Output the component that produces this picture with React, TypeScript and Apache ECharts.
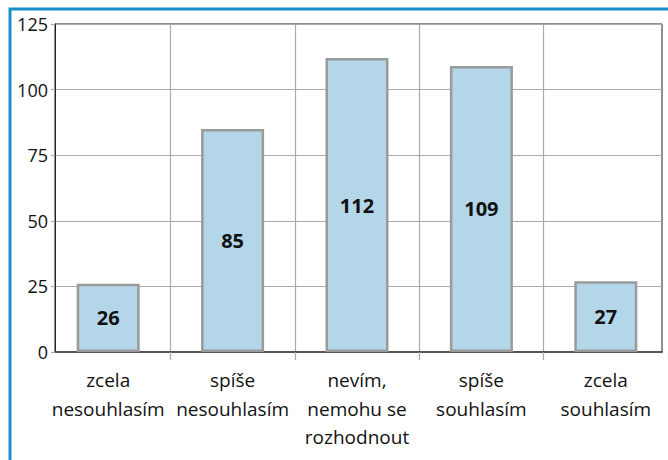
import React, { useEffect, useRef } from "react";
import * as echarts from "echarts";

const categories = [
  "zcela\nnesouhlasím",
  "spíše\nnesouhlasím",
  "nevím,\nnemohu se\nrozhodnout",
  "spíše\nsouhlasím",
  "zcela\nsouhlasím",
];
const values = [26, 85, 112, 109, 27];
const yMin = 0;
const yMax = 125;
const yStep = 25;

const FONT = "Open Sans";

export default function App() {
  const ref = useRef<HTMLDivElement>(null);
  useEffect(() => {
    if (!ref.current) return;
    const chart = echarts.init(ref.current, null, { renderer: "svg" });
    chart.setOption({
      animation: false,
      backgroundColor: "#ffffff",
      textStyle: { fontFamily: FONT },
      grid: [
        { left: 55, right: 6, top: 24, bottom: 108, show: true, borderColor: "#222", borderWidth: 1, backgroundColor: "transparent" },
        { left: 46, right: 0, top: 24, bottom: 108 },
      ],
      xAxis: [
        {
          gridIndex: 0,
          type: "value",
          min: 0,
          max: 1,
          axisLine: { show: true, lineStyle: { color: "#555", width: 2 } },
          axisLabel: { show: false },
          axisTick: { show: false },
          splitLine: { show: false },
        },
        {
          gridIndex: 1,
          type: "category",
          data: categories,
          axisLine: { show: false },
          axisTick: {
            show: true,
            interval: (i: number) => i !== 0,
            length: 8,
            lineStyle: { color: "#aaaaaa", width: 1.2 },
          },
          splitLine: {
            show: true,
            showMinLine: false,
            showMaxLine: false,
            lineStyle: { color: "#aaaaaa", width: 1.2 },
          },
          axisLabel: {
            interval: 0,
            fontSize: 19,
            lineHeight: 28.5,
            color: "#111",
            margin: 14,
            fontFamily: FONT,
          },
        },
      ],
      yAxis: [
        {
          gridIndex: 0,
          type: "value",
          min: yMin,
          max: yMax,
          interval: yStep,
          axisLine: { show: true, lineStyle: { color: "#222", width: 1 } },
          axisTick: { show: true, length: 4, lineStyle: { color: "#aaaaaa", width: 1.2 } },
          axisLabel: { fontSize: 18, color: "#111", margin: 7, fontFamily: FONT },
          splitLine: { show: true, lineStyle: { color: "#aaaaaa", width: 1.2 } },
        },
        {
          gridIndex: 1,
          type: "value",
          min: yMin,
          max: yMax,
          interval: yStep,
          show: false,
        },
      ],
      series: [
        {
          type: "bar",
          xAxisIndex: 1,
          yAxisIndex: 1,
          data: values,
          barWidth: 63,
          itemStyle: { color: "#b3d7e9", borderColor: "#9a9a9a", borderWidth: 2.5 },
          label: {
            show: true,
            position: "inside",
            fontSize: 20,
            fontWeight: "bold",
            color: "#111",
            fontFamily: FONT,
          },
        },
      ],
      graphic: [
        {
          type: "polyline",
          silent: true,
          shape: { points: [[10, 462], [10, 9], [670, 9]] },
          style: { stroke: "#1a8dcc", lineWidth: 3, fill: null },
          z: 100,
        },
      ],
    });
    return () => chart.dispose();
  }, []);
  return (
    <div
      ref={ref}
      style={{ position: "fixed", left: 0, top: 0, width: 668, height: 460 }}
    />
  );
}
